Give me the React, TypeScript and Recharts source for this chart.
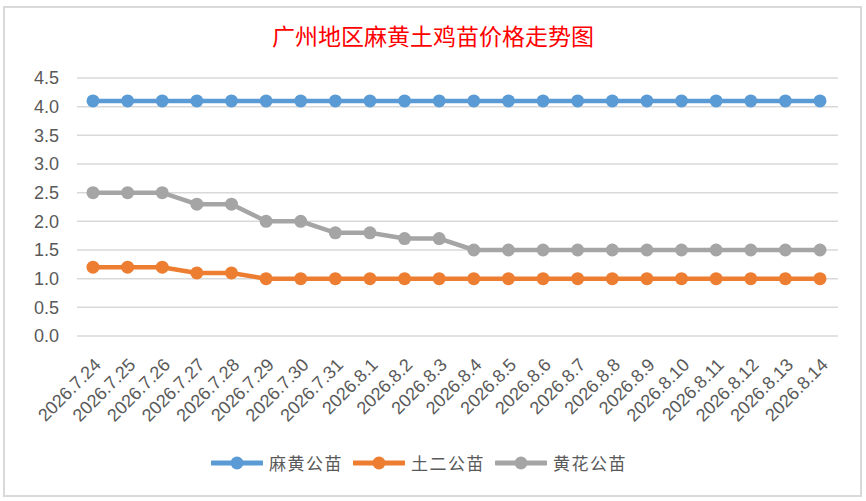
import { LineChart, Line, XAxis, YAxis, CartesianGrid, Legend } from 'recharts'

const dates = [
  '2026.7.24', '2026.7.25', '2026.7.26', '2026.7.27', '2026.7.28', '2026.7.29',
  '2026.7.30', '2026.7.31', '2026.8.1', '2026.8.2', '2026.8.3', '2026.8.4',
  '2026.8.5', '2026.8.6', '2026.8.7', '2026.8.8', '2026.8.9', '2026.8.10',
  '2026.8.11', '2026.8.12', '2026.8.13', '2026.8.14',
]
const mahuang = [4.1, 4.1, 4.1, 4.1, 4.1, 4.1, 4.1, 4.1, 4.1, 4.1, 4.1, 4.1, 4.1, 4.1, 4.1, 4.1, 4.1, 4.1, 4.1, 4.1, 4.1, 4.1]
const tuer = [1.2, 1.2, 1.2, 1.1, 1.1, 1.0, 1.0, 1.0, 1.0, 1.0, 1.0, 1.0, 1.0, 1.0, 1.0, 1.0, 1.0, 1.0, 1.0, 1.0, 1.0, 1.0]
const huanghua = [2.5, 2.5, 2.5, 2.3, 2.3, 2.0, 2.0, 1.8, 1.8, 1.7, 1.7, 1.5, 1.5, 1.5, 1.5, 1.5, 1.5, 1.5, 1.5, 1.5, 1.5, 1.5]
const yTicks = [0, 0.5, 1, 1.5, 2, 2.5, 3, 3.5, 4, 4.5]

const seriesNames = ['麻黄公苗', '土二公苗', '黄花公苗']
const colors = ['#5B9BD5', '#ED7D31', '#A5A5A5']

const data = dates.map((d, i) => ({
  date: d,
  mahuang: mahuang[i],
  tuer: tuer[i],
  huanghua: huanghua[i],
}))

const textColor = '#595959'
const font = '"Liberation Sans", Arial, sans-serif'

// date labels slanted like Excel: text ends just right of and below the point
function DateTick({ x, y, payload }: any) {
  const ax = x + 9
  const ay = y + 22
  return (
    <text
      x={ax}
      y={ay}
      transform={`rotate(-45 ${ax} ${ay})`}
      textAnchor="end"
      fontSize={18}
      fontFamily={font}
      fill={textColor}
    >
      {payload.value}
    </text>
  )
}

function LegendContent() {
  return (
    <div style={{ display: 'flex', justifyContent: 'center', alignItems: 'center', gap: 10 }}>
      {seriesNames.map((n, i) => (
        <div key={n} style={{ display: 'flex', alignItems: 'center' }}>
          <svg width={52} height={14}>
            <line x1={1} y1={7} x2={51} y2={7} stroke={colors[i]} strokeWidth={5} strokeLinecap="round" />
            <circle cx={26} cy={7} r={6.5} fill={colors[i]} />
          </svg>
          <span
            style={{
              marginLeft: 6,
              fontSize: 17,
              letterSpacing: 1.5,
              color: textColor,
              fontFamily: '"Noto Sans CJK SC", sans-serif',
            }}
          >
            {n}
          </span>
        </div>
      ))}
    </div>
  )
}

export default function App() {
  const keys = ['mahuang', 'tuer', 'huanghua']
  return (
    <div style={{ position: 'absolute', left: 0, top: 0, width: 866, height: 501, background: '#fff' }}>
      <div
        style={{
          position: 'absolute',
          left: 3,
          top: 6,
          width: 855,
          height: 487,
          border: '2px solid #D9D9D9',
          background: '#fff',
        }}
      />
      <div
        style={{
          position: 'absolute',
          left: 0,
          top: 18,
          width: 866,
          textAlign: 'center',
          color: '#FF0000',
          fontSize: 23,
          fontFamily: '"Noto Sans CJK SC", sans-serif',
        }}
      >
        广州地区麻黄土鸡苗价格走势图
      </div>
      <LineChart
        width={866}
        height={501}
        data={data}
        margin={{ top: 78, right: 28, bottom: 26, left: 0 }}
        style={{ position: 'absolute', left: 0, top: 0 }}
      >
        <CartesianGrid vertical={false} stroke="#D9D9D9" strokeWidth={1.5} />
        <XAxis
          dataKey="date"
          interval={0}
          height={114}
          padding={{ left: 16, right: 18 }}
          tick={<DateTick />}
          tickLine={false}
          axisLine={false}
        />
        <YAxis
          domain={[0, 4.5]}
          ticks={yTicks}
          width={77}
          tickFormatter={(v: number) => v.toFixed(1)}
          tick={{ fontSize: 18, fill: textColor, fontFamily: font }}
          tickLine={false}
          axisLine={false}
          tickMargin={12}
        />
        <Legend verticalAlign="bottom" content={<LegendContent />} />
        {keys.map((k, i) => (
          <Line
            key={k}
            dataKey={k}
            name={seriesNames[i]}
            type="linear"
            stroke={colors[i]}
            strokeWidth={4.5}
            dot={{ r: 6.5, fill: colors[i], stroke: colors[i], strokeWidth: 0 }}
            activeDot={false}
            isAnimationActive={false}
          />
        ))}
      </LineChart>
    </div>
  )
}
